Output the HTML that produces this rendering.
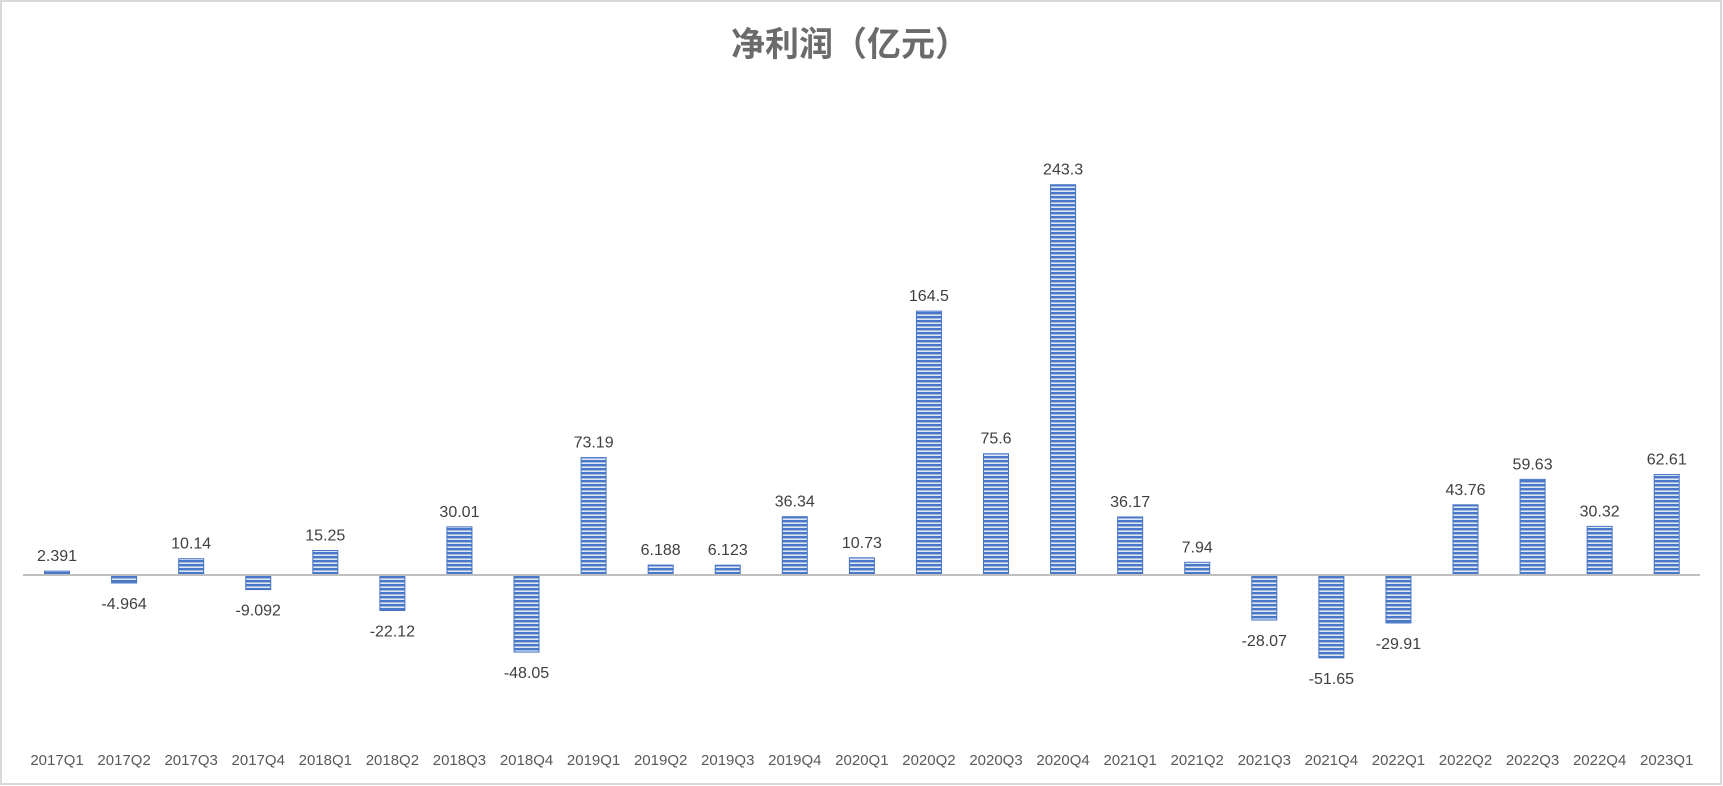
<!DOCTYPE html>
<html><head><meta charset="utf-8"><style>
html,body{margin:0;padding:0;background:#fff}
svg{display:block;font-family:"Liberation Sans","Noto Sans CJK SC",sans-serif}
</style></head><body>
<svg id="c" width="1723" height="786">
<defs>
<pattern id="stripe" width="4" height="4" patternUnits="userSpaceOnUse">
<rect width="4" height="4" fill="#dfe7f5"/>
<rect y="0" width="4" height="2.4" fill="#4a78c8"/>
</pattern>
</defs>
<rect x="1" y="1" width="1720" height="783" fill="#fff" stroke="#d9d9d9" stroke-width="2"/>
<text x="850" y="56" text-anchor="middle" font-size="34" font-weight="bold" fill="#6b6b6b">净利润（亿元）</text>
<g id="bars"></g>
<line x1="23" y1="575" x2="1700" y2="575" stroke="#bfbfbf" stroke-width="2"/>
<g id="labels"></g>
</svg>
<script>
const categories=["2017Q1","2017Q2","2017Q3","2017Q4","2018Q1","2018Q2","2018Q3","2018Q4","2019Q1","2019Q2","2019Q3","2019Q4","2020Q1","2020Q2","2020Q3","2020Q4","2021Q1","2021Q2","2021Q3","2021Q4","2022Q1","2022Q2","2022Q3","2022Q4","2023Q1"];
const values=[2.391,-4.964,10.14,-9.092,15.25,-22.12,30.01,-48.05,73.19,6.188,6.123,36.34,10.73,164.5,75.6,243.3,36.17,7.94,-28.07,-51.65,-29.91,43.76,59.63,30.32,62.61];
const valueLabels=["2.391","-4.964","10.14","-9.092","15.25","-22.12","30.01","-48.05","73.19","6.188","6.123","36.34","10.73","164.5","75.6","243.3","36.17","7.94","-28.07","-51.65","-29.91","43.76","59.63","30.32","62.61"];
const NS="http://www.w3.org/2000/svg";
const left=23.5,step=67.07,zeroY=575,pxPerUnit=1.604,bw=25;
const xc=i=>left+step*(i+0.5);
const y=v=>zeroY-v*pxPerUnit;
const bars=document.getElementById('bars'),labels=document.getElementById('labels');
categories.forEach((c,i)=>{
 const v=values[i];
 const r=document.createElementNS(NS,'rect');
 r.setAttribute('x',xc(i)-bw/2);
 r.setAttribute('y',Math.min(y(v),zeroY));
 r.setAttribute('width',bw);
 r.setAttribute('height',Math.abs(y(v)-zeroY));
 r.setAttribute('fill','url(#stripe)');
 r.setAttribute('stroke','#4472c4');
 r.setAttribute('stroke-width','1');
 
 
 bars.appendChild(r);
 const t=document.createElementNS(NS,'text');
 t.setAttribute('x',xc(i));
 t.setAttribute('y',v>=0?y(v)-10:y(v)+26);
 t.setAttribute('text-anchor','middle');
 t.setAttribute('font-size','16');
 t.setAttribute('fill','#404040');
 t.textContent=valueLabels[i];
 
 
 labels.appendChild(t);
 const xl=document.createElementNS(NS,'text');
 xl.setAttribute('x',xc(i));
 xl.setAttribute('y',765);
 xl.setAttribute('text-anchor','middle');
 xl.setAttribute('font-size','15');
 xl.setAttribute('fill','#595959');
 xl.textContent=c;
 
 
 labels.appendChild(xl);
});
</script>
</body></html>
